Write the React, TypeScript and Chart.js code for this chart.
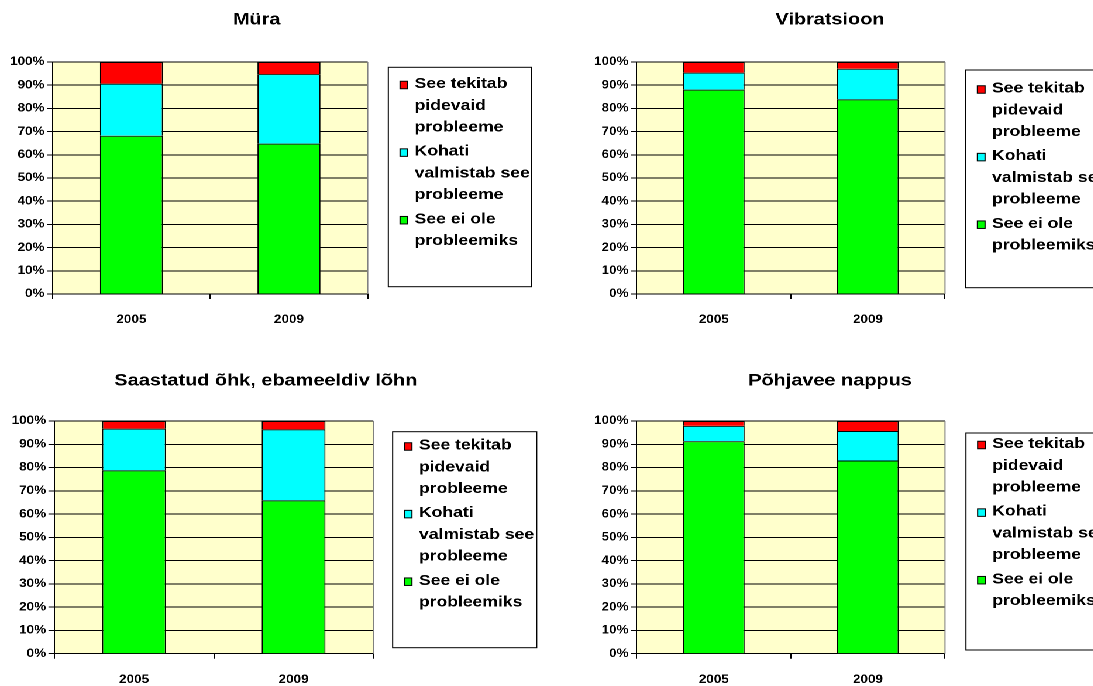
import React, { useEffect, useRef } from 'react';
import { Chart, registerables } from 'chart.js';

Chart.register(...registerables);

// ---------- data ----------
const years = ['2005', '2009'];
const chartTitles = ['Müra', 'Vibratsioon', 'Saastatud õhk, ebameeldiv lõhn', 'Põhjavee nappus'];

const muraGreen = [68.2, 64.8];
const muraCyan = [22.5, 30.0];
const muraRed = [9.3, 5.2];

const vibrGreen = [88.1, 83.9];
const vibrCyan = [7.3, 13.2];
const vibrRed = [4.6, 2.9];

const saastGreen = [78.8, 65.9];
const saastCyan = [17.9, 30.5];
const saastRed = [3.3, 3.6];

const pohjaGreen = [91.3, 83.0];
const pohjaCyan = [6.6, 12.7];
const pohjaRed = [2.1, 4.3];

const seriesGreenLabel = 'See ei ole probleemiks';
const seriesCyanLabel = 'Kohati valmistab see probleeme';
const seriesRedLabel = 'See tekitab pidevaid probleeme';

const legendRedLines = ['See tekitab', 'pidevaid', 'probleeme'];
const legendCyanLines = ['Kohati', 'valmistab see', 'probleeme'];
const legendGreenLines = ['See ei ole', 'probleemiks'];

const yMin = 0;
const yMax = 100;
const yStep = 10;

// ---------- styling / layout ----------
const SX = 1.17; // horizontal stretch of the whole picture
const PAGE_W = 1093;
const PAGE_H = 686;
const INNER_W = PAGE_W / SX;

const GREEN = '#00FF00';
const CYAN = '#00FFFF';
const RED = '#FF0000';
const PLOT_BG = '#FFFFCC';
const FONT = '"Liberation Sans", Arial, Helvetica, sans-serif';

const panels = [
  {
    left: 0, top: 0, width: 467, height: 343,
    pad: { left: 5, right: 152.7, top: 62, bottom: 19 },
    titleX: 219.4, titleY: 20,
    legend: { x: 331.9, right: 454.4, top: 67.3, bottom: 286.7, firstY: 84 },
    green: muraGreen, cyan: muraCyan, red: muraRed,
  },
  {
    left: 467, top: 0, width: INNER_W - 467, height: 343,
    pad: { left: 37.2, right: 126.5, top: 62, bottom: 19 },
    titleX: 242.4, titleY: 20,
    legend: { x: 358.4, right: 490, top: 70, bottom: 287.7, firstY: 88.5 },
    green: vibrGreen, cyan: vibrCyan, red: vibrRed,
  },
  {
    left: 0, top: 343, width: 467, height: 343,
    pad: { left: 6.4, right: 147.9, top: 78, bottom: 2.3 },
    titleX: 227.2, titleY: 38,
    legend: { x: 335.6, right: 458.7, top: 88.7, bottom: 304.7, firstY: 102.5 },
    green: saastGreen, cyan: saastCyan, red: saastRed,
  },
  {
    left: 467, top: 343, width: INNER_W - 467, height: 343,
    pad: { left: 37.2, right: 126.5, top: 78, bottom: 2.3 },
    titleX: 242.4, titleY: 38,
    legend: { x: 358.6, right: 490, top: 90, bottom: 307, firstY: 101 },
    green: pohjaGreen, cyan: pohjaCyan, red: pohjaRed,
  },
];

function makeDecor(title: string, p: any) {
  return {
    id: 'decor',
    beforeDraw(chart: any) {
      const { ctx, chartArea: a } = chart;
      ctx.save();
      ctx.fillStyle = PLOT_BG;
      ctx.fillRect(a.left, a.top, a.right - a.left, a.bottom - a.top);
      ctx.restore();
    },
    afterDraw(chart: any) {
      const { ctx, chartArea: a } = chart;
      ctx.save();
      // right plot border (grey)
      ctx.strokeStyle = '#808080';
      ctx.lineWidth = 1;
      ctx.beginPath();
      ctx.moveTo(a.right, a.top);
      ctx.lineTo(a.right, a.bottom);
      ctx.stroke();

      // title
      ctx.fillStyle = '#000';
      ctx.font = `bold 17px ${FONT}`;
      ctx.textAlign = 'center';
      ctx.textBaseline = 'middle';
      ctx.fillText(title, p.titleX, p.titleY);

      // legend box
      const L = p.legend;
      ctx.fillStyle = '#FFFFFF';
      ctx.fillRect(L.x, L.top, L.right - L.x, L.bottom - L.top);
      ctx.strokeStyle = '#000';
      ctx.strokeRect(L.x, L.top, L.right - L.x, L.bottom - L.top);

      const items = [
        { color: RED, lines: legendRedLines },
        { color: CYAN, lines: legendCyanLines },
        { color: GREEN, lines: legendGreenLines },
      ];
      const lineH = 21.7;
      const groupGap = 2.5;
      let y = L.firstY;
      ctx.font = `bold 15px ${FONT}`;
      ctx.textAlign = 'left';
      ctx.textBaseline = 'middle';
      items.forEach((it) => {
        const sw = 6.5, sh = 7.5;
        ctx.fillStyle = it.color;
        ctx.fillRect(L.x + 10, y + 1 - sh / 2, sw, sh);
        ctx.strokeStyle = '#000';
        ctx.lineWidth = 1;
        ctx.strokeRect(L.x + 10, y + 1 - sh / 2, sw, sh);
        ctx.fillStyle = '#000';
        it.lines.forEach((ln, i) => {
          ctx.fillText(ln, L.x + 22.5, y + i * lineH);
        });
        y += it.lines.length * lineH + groupGap;
      });
      ctx.restore();
    },
  };
}

function Panel({ idx }: { idx: number }) {
  const ref = useRef<HTMLCanvasElement | null>(null);
  const p = panels[idx];
  useEffect(() => {
    if (!ref.current) return;
    const chart = new Chart(ref.current, {
      type: 'bar',
      data: {
        labels: years,
        datasets: [
          { label: seriesGreenLabel, data: p.green, backgroundColor: GREEN, borderColor: '#000', borderWidth: 1 },
          { label: seriesCyanLabel, data: p.cyan, backgroundColor: CYAN, borderColor: '#000', borderWidth: 1 },
          { label: seriesRedLabel, data: p.red, backgroundColor: RED, borderColor: '#000', borderWidth: 1 },
        ],
      },
      options: {
        animation: false,
        responsive: true,
        maintainAspectRatio: false,
        devicePixelRatio: 2,
        layout: { padding: p.pad },
        datasets: { bar: { barPercentage: 0.4, categoryPercentage: 1 } },
        plugins: {
          legend: { display: false },
          title: { display: false },
          tooltip: { enabled: false },
        },
        scales: {
          x: {
            stacked: true,
            grid: { display: true, drawOnChartArea: false, tickLength: 5, color: '#000', offset: true },
            border: { display: true, color: '#000', width: 1 },
            ticks: { color: '#000', font: { family: FONT, size: 11.5, weight: 'bold' }, padding: 14, maxRotation: 0 },
            afterFit: (s: any) => { s.height = 30; },
          },
          y: {
            stacked: true,
            min: yMin,
            max: yMax,
            grid: { color: '#000', tickLength: 5, lineWidth: 1 },
            border: { display: true, color: '#000', width: 1 },
            ticks: {
              stepSize: yStep,
              color: '#000',
              padding: 2,
              font: { family: FONT, size: 11.5, weight: 'bold' },
              callback: (v: any) => `${v}%`,
            },
            afterFit: (s: any) => { s.width = 40; },
          },
        },
      } as any,
      plugins: [makeDecor(chartTitles[idx], p)],
    });
    return () => chart.destroy();
  }, []);
  return (
    <div style={{ position: 'absolute', left: p.left, top: p.top, width: p.width, height: p.height }}>
      <canvas ref={ref} />
    </div>
  );
}

export default function App() {
  return (
    <div style={{ position: 'absolute', left: 0, top: 0, width: PAGE_W, height: PAGE_H, overflow: 'hidden', background: '#fff' }}>
      <div
        style={{
          position: 'absolute', left: 0, top: 0, width: INNER_W, height: PAGE_H,
          transform: `scaleX(${SX})`, transformOrigin: '0 0',
        }}
      >
        {panels.map((_, i) => <Panel key={i} idx={i} />)}
      </div>
    </div>
  );
}
